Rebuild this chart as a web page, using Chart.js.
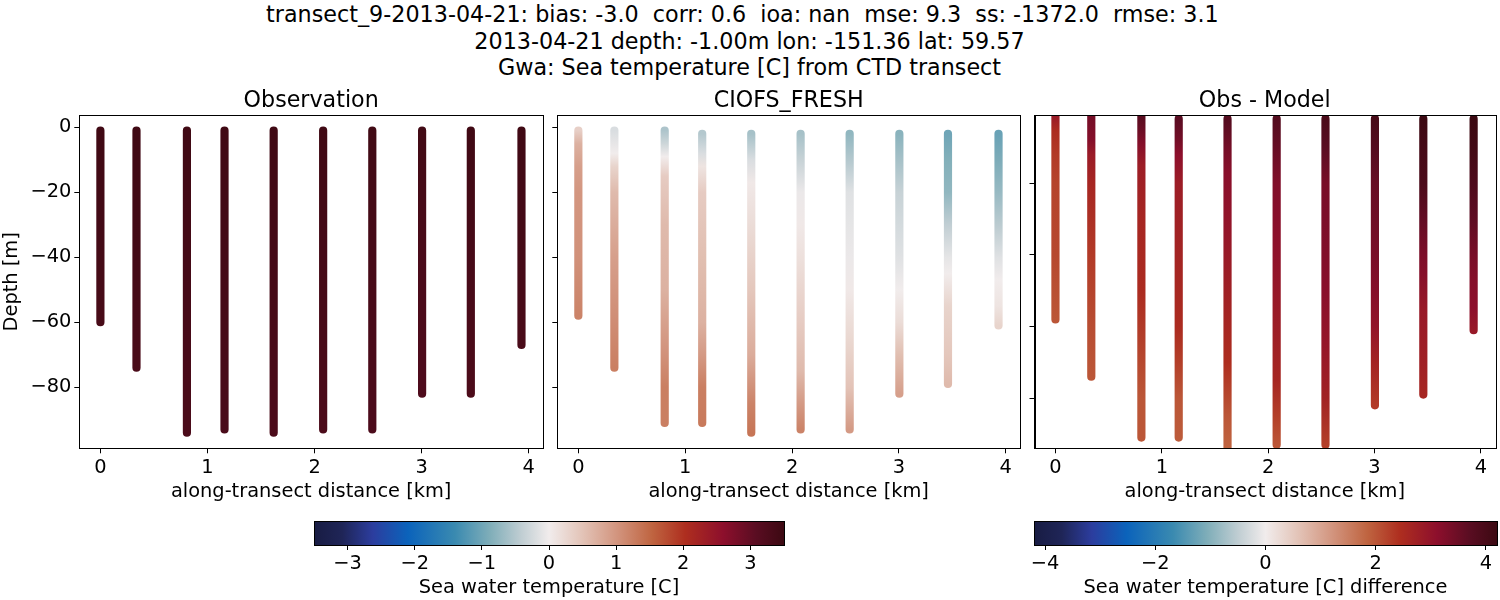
<!DOCTYPE html>
<html>
<head>
<meta charset="utf-8">
<script src="https://cdn.jsdelivr.net/npm/chart.js@4"></script>
<style>
  html, body { margin: 0; padding: 0; background: #fff; }
  body { width: 1500px; height: 600px; position: relative; overflow: hidden; font-family: "DejaVu Sans"; }
  canvas { position: absolute; }
  #suptitle { position: absolute; left: 0; top: 1px; width: 1499px; text-align: center; font-size: 22.25px; line-height: 26.5px; white-space: pre; color: #000; }
</style>
</head>
<body>
<div id="suptitle">transect_9-2013-04-21: bias: -3.0  corr: 0.6  ioa: nan  mse: 9.3  ss: -1372.0  rmse: 3.1  
2013-04-21 depth: -1.00m lon: -151.36 lat: 59.57
Gwa: Sea temperature [C] from CTD transect</div>
<canvas id="obs" width="548" height="425" style="left:0;top:85px"></canvas>
<canvas id="model" width="475" height="425" style="left:550px;top:85px"></canvas>
<canvas id="diff" width="473" height="425" style="left:1027px;top:85px"></canvas>
<canvas id="cbTemp" width="500" height="85" style="left:300px;top:515px"></canvas>
<canvas id="cbDiff" width="480" height="85" style="left:1020px;top:515px"></canvas>
<script>
// station positions along the transect [km]
var distances = [0, 0.337, 0.808, 1.159, 1.618, 2.08, 2.539, 3.004, 3.459, 3.932];
var xTicks = [0, 1, 2, 3, 4];
var depthTicks = [0, -20, -40, -60, -80];
var diffDepthTicks = [-20, -40, -60, -80];
var tempTicks = [-3, -2, -1, 0, 1, 2, 3];
var diffTicks = [-4, -2, 0, 2, 4];

// observation, read per station
var obsDepths = [
  [-1, -30, -60], [-1, -35, -74], [-1, -45, -94], [-1, -45, -93], [-1, -45, -94],
  [-1, -45, -93], [-1, -45, -93], [-1, -40, -82], [-1, -40, -82], [-1, -35, -67]
];
var obsTemps = [
  [3.45, 3.4, 3.33], [3.45, 3.4, 3.31], [3.45, 3.38, 3.29], [3.45, 3.38, 3.3], [3.45, 3.38, 3.28],
  [3.45, 3.38, 3.28], [3.43, 3.35, 3.27], [3.41, 3.3, 3.25], [3.45, 3.35, 3.28], [3.45, 3.38, 3.31]
];

// model, read per station
var modelDepths = [
  [-1, -5, -12, -20, -40, -58],
  [-1, -8, -12, -20, -40, -60, -74],
  [-1, -5, -9, -15, -30, -50, -70, -80, -91],
  [-2, -8, -12, -20, -40, -60, -70, -80, -91],
  [-2, -10, -17, -30, -50, -70, -85, -94],
  [-2, -10, -20, -30, -40, -60, -75, -85, -93],
  [-2, -10, -20, -30, -40, -50, -65, -80, -93],
  [-2, -10, -20, -30, -40, -50, -60, -70, -82],
  [-2, -10, -20, -30, -40, -45, -55, -70, -79],
  [-2, -10, -20, -30, -40, -47, -55, -61]
];
var modelTemps = [
  [0.35, 0.7, 0.9, 1.0, 1.05, 1.2],
  [-0.2, 0, 0.3, 0.6, 0.9, 1.1, 1.25],
  [-0.55, -0.3, 0, 0.4, 0.6, 0.7, 1.05, 1.25, 1.25],
  [-0.5, -0.2, 0.1, 0.4, 0.55, 0.7, 0.95, 1.25, 1.3],
  [-0.6, -0.2, 0.05, 0.2, 0.45, 0.75, 1.2, 1.35],
  [-0.6, -0.35, -0.05, 0.05, 0.15, 0.4, 0.6, 0.95, 1.2],
  [-0.75, -0.5, -0.15, -0.1, -0.05, 0.05, 0.25, 0.5, 0.95],
  [-0.8, -0.6, -0.35, -0.25, -0.15, 0, 0.2, 0.55, 0.9],
  [-1.0, -0.85, -0.75, -0.4, -0.1, 0, 0.3, 0.45, 0.6],
  [-1.05, -0.9, -0.7, -0.45, -0.15, 0, 0.1, 0.3]
];

// obs - model, same depths as the model
var diffTemps = [
  [2.9, 2.5, 2.3, 2.2, 2.15, 2.0],
  [3.4, 3.2, 2.85, 2.6, 2.3, 2.1, 2.0],
  [3.75, 3.5, 3.2, 2.8, 2.6, 2.5, 2.15, 2.0, 2.0],
  [3.7, 3.4, 3.1, 2.8, 2.65, 2.5, 2.25, 2.0, 1.95],
  [3.8, 3.4, 3.15, 3.0, 2.75, 2.45, 2.0, 1.85],
  [3.8, 3.55, 3.25, 3.15, 3.05, 2.8, 2.6, 2.25, 2.0],
  [3.95, 3.7, 3.35, 3.3, 3.25, 3.15, 2.95, 2.7, 2.25],
  [4.0, 3.8, 3.55, 3.45, 3.35, 3.2, 3.0, 2.65, 2.3],
  [4.2, 4.05, 3.95, 3.6, 3.3, 3.2, 2.9, 2.75, 2.6],
  [4.2, 4.1, 3.9, 3.65, 3.35, 3.2, 3.1, 2.9]
];

// colour map sampled from the colour bars
var mapPos = [0, 0.06, 0.125, 0.2, 0.3, 0.375, 0.44, 0.5, 0.57, 0.65, 0.72, 0.79, 0.87, 0.94, 1];
var mapCol = ['#181c43', '#1f2557', '#2c3d9e', '#0b63bb', '#3a8ab0', '#80aeb9', '#bfcdd2', '#f1ecec',
              '#e3c4b8', '#d1917a', '#bf6440', '#ae2e1f', '#8d0f2c', '#5a0d22', '#3c0912'];

function hexRgb(h) {
  return [parseInt(h.substr(1, 2), 16), parseInt(h.substr(3, 2), 16), parseInt(h.substr(5, 2), 16)];
}

function colorOf(v, lim) {
  var t = Math.min(1, Math.max(0, (v + lim) / (2 * lim)));
  for (var i = 0; i < mapPos.length - 1; i++) {
    if (t <= mapPos[i + 1]) {
      var f = (t - mapPos[i]) / (mapPos[i + 1] - mapPos[i]);
      var a = hexRgb(mapCol[i]), b = hexRgb(mapCol[i + 1]);
      return 'rgb(' + [0, 1, 2].map(function (k) { return Math.round(a[k] + (b[k] - a[k]) * f); }).join(',') + ')';
    }
  }
  return mapCol[mapCol.length - 1];
}

var tickFont = { family: 'DejaVu Sans', size: 19.4 };
var labelFont = { family: 'DejaVu Sans', size: 19.4 };
var minusSign = function (v) { return String(v).replace('-', '\u2212'); };

var boxPlugin = {
  id: 'box',
  afterDraw: function (chart) {
    var a = chart.chartArea, c = chart.ctx;
    c.save();
    c.strokeStyle = '#000';
    c.lineWidth = 1;
    c.strokeRect(Math.round(a.left) + 0.5, Math.round(a.top) + 0.5, Math.round(a.width), Math.round(a.height));
    c.restore();
  }
};

function stationDatasets(depths, temps, lim) {
  return distances.map(function (d, i) {
    return {
      data: depths[i].map(function (y) { return { x: d, y: y }; }),
      showLine: true,
      pointRadius: 0,
      borderWidth: 8.2,
      borderCapStyle: 'round',
      clip: 0,
      // colour runs down the station following its temperatures
      borderColor: function (ctx) {
        var s = ctx.chart.scales.y;
        if (!s) return '#888';
        var p0 = s.getPixelForValue(depths[i][0]);
        var p1 = s.getPixelForValue(depths[i][depths[i].length - 1]);
        if (!isFinite(p0) || !isFinite(p1)) return '#888'; // first pass, scale not laid out yet
        var g = ctx.chart.ctx.createLinearGradient(0, p0, 0, p1);
        depths[i].forEach(function (y, k) {
          g.addColorStop((s.getPixelForValue(y) - p0) / (p1 - p0), colorOf(temps[i][k], lim));
        });
        return g;
      }
    };
  });
}

function panel(id, title, depths, temps, lim, yMin, yMax, yTicks, leftPad, yLabels) {
  var chart = new Chart(document.getElementById(id), {
    type: 'scatter',
    data: { datasets: stationDatasets(depths, temps, lim) },
    plugins: [boxPlugin],
    options: {
      responsive: false,
      animation: false,
      layout: { padding: { left: 0, right: 5, top: 0, bottom: 6.7 } },
      plugins: {
        legend: { display: false },
        tooltip: { enabled: false },
        title: { display: true, text: title, fullSize: false, color: '#000',
                 font: { family: 'DejaVu Sans', size: 22.2, weight: 'normal' },
                 padding: { top: 2.7, bottom: 1 } }
      },
      scales: {
        x: {
          type: 'linear', min: -0.197, max: 4.133,
          afterBuildTicks: function (s) { s.ticks = xTicks.map(function (v) { return { value: v }; }); },
          afterFit: function (s) { s.height = 55; },
          grid: { drawOnChartArea: false, tickLength: 5, tickColor: '#000' },
          border: { color: '#000' },
          ticks: { color: '#000', font: tickFont, maxRotation: 0, padding: 3, callback: minusSign },
          title: { display: true, text: 'along-transect distance [km]', color: '#000', font: labelFont, padding: { top: 1, bottom: 0 } }
        },
        y: {
          min: yMin, max: yMax,
          afterBuildTicks: function (s) { s.ticks = yTicks.map(function (v) { return { value: v }; }); },
          afterFit: function (s) { s.width = leftPad; },
          grid: { drawOnChartArea: false, tickLength: 5, tickColor: '#000' },
          border: { color: '#000' },
          ticks: { display: yLabels, color: '#000', font: tickFont, padding: 3, callback: minusSign },
          title: { display: yLabels, text: 'Depth [m]', color: '#000', font: labelFont, padding: { top: 0, bottom: 2 } }
        }
      }
    }
  });
  chart.update();
}

function colorBar(id, label, lim, ticks, padL, padR) {
  var chart = new Chart(document.getElementById(id), {
    type: 'bar',
    data: {
      labels: [label],
      datasets: [{
        data: [[-lim, lim]],
        barPercentage: 1,
        categoryPercentage: 1,
        borderWidth: 0,
        backgroundColor: function (ctx) {
          var a = ctx.chart.chartArea;
          if (!a) return '#888';
          var g = ctx.chart.ctx.createLinearGradient(a.left, 0, a.right, 0);
          mapPos.forEach(function (p, i) { g.addColorStop(p, mapCol[i]); });
          return g;
        }
      }]
    },
    plugins: [boxPlugin],
    options: {
      indexAxis: 'y',
      responsive: false,
      animation: false,
      layout: { padding: { left: padL, right: padR, top: 6.3, bottom: 0 } },
      plugins: { legend: { display: false }, tooltip: { enabled: false } },
      scales: {
        y: { display: false },
        x: {
          type: 'linear', min: -lim, max: lim,
          afterBuildTicks: function (s) { s.ticks = ticks.map(function (v) { return { value: v }; }); },
          afterFit: function (s) { s.height = 55; },
          grid: { drawOnChartArea: false, tickLength: 5, tickColor: '#000' },
          border: { color: '#000' },
          ticks: { color: '#000', font: tickFont, maxRotation: 0, padding: 2, callback: minusSign },
          title: { display: true, text: label, color: '#000', font: labelFont, padding: { top: 1, bottom: 0 } }
        }
      }
    }
  });
  chart.update();
}

panel('obs', 'Observation', obsDepths, obsTemps, 3.5, -98.8, 3.7, depthTicks, 79.3, true);
panel('model', 'CIOFS_FRESH', modelDepths, modelTemps, 3.5, -98.8, 3.7, depthTicks, 7.3, false);
panel('diff', 'Obs - Model', modelDepths, diffTemps, 4.2, -94, -1, diffDepthTicks, 7.5, false);
colorBar('cbTemp', 'Sea water temperature [C]', 3.5, tempTicks, 14, 16);
colorBar('cbDiff', 'Sea water temperature [C] difference', 4.2, diffTicks, 14, 3);
</script>
</body>
</html>
